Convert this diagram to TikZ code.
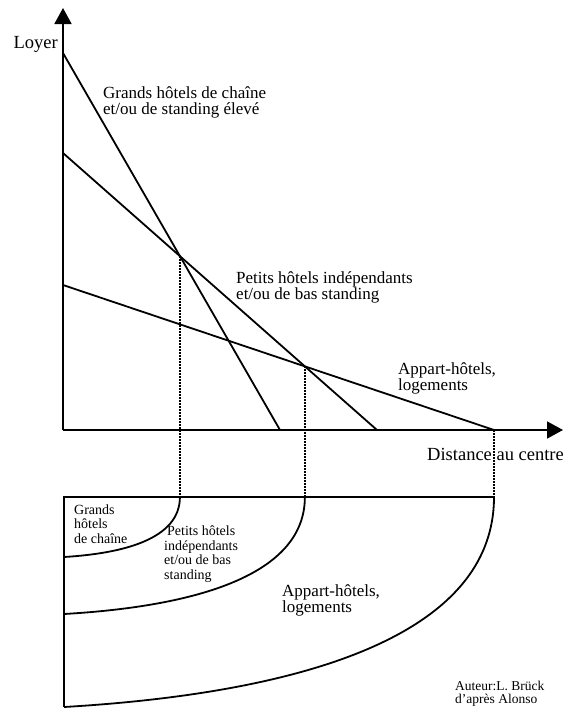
\documentclass[tikz,border=0pt]{standalone}
\usepackage{fontspec}
\setmainfont{Liberation Serif}
\usetikzlibrary{arrows.meta}
\begin{document}
\begin{tikzpicture}[x=1pt,y=-1pt,
  axis/.style={line width=1.8pt,-{Triangle[length=16pt,width=17pt]}},
  curve/.style={line width=1.8pt},
  guide/.style={line width=1.4pt,dash pattern=on 1.6pt off 1.4pt},
  zone/.style={line width=1.8pt},
  biglabel/.style={font=\fontsize{17}{16}\selectfont,align=left,inner sep=0pt,anchor=base west},
  smalllabel/.style={font=\fontsize{14}{14.5}\selectfont,align=left,inner sep=0pt,anchor=base west},
  authorlabel/.style={font=\fontsize{13.5}{13}\selectfont,align=left,inner sep=0pt,anchor=base west}]
\useasboundingbox (0,0) rectangle (566,710);
% axes
\coordinate (O) at (63,430);
\coordinate (Ytop) at (63,8);
\coordinate (Xend) at (563,430);
\draw[axis] (O) -- (Ytop);
\draw[axis] (O) -- (Xend);
% rent curves
\coordinate (A1) at (63,53);  \coordinate (B1) at (280,430);
\coordinate (A2) at (63,153); \coordinate (B2) at (377,430);
\coordinate (A3) at (63,285); \coordinate (B3) at (494,430);
\draw[curve] (A1) -- (B1);
\draw[curve] (A2) -- (B2);
\draw[curve] (A3) -- (B3);
\coordinate (P12) at (intersection of A1--B1 and A2--B2);
\coordinate (P23) at (intersection of A2--B2 and A3--B3);
% zone box
\coordinate (T0) at (64,497);
\coordinate (T1) at (P12 |- T0);
\coordinate (T2) at (P23 |- T0);
\coordinate (T3) at (B3 |- T0);
\coordinate (L1) at (64,557);
\coordinate (L2) at (64,614);
\coordinate (L3) at (64,707);
\draw[guide] (P12) -- (T1);
\draw[guide] (P23) -- (T2);
\draw[guide] (B3) -- (T3);
\draw[zone] (T3) -- (T0) -- (L3);
\draw[zone] (T1) .. controls ([yshift=-42pt]T1) and (123.5,553.4) .. (L1);
\draw[zone] (T2) .. controls ([yshift=-82pt]T2) and (185,607) .. (L2);
\draw[zone] (T3) .. controls ([yshift=-147pt]T3) and (279,694.4) .. (L3);
% labels
\node[font=\fontsize{18.5}{20}\selectfont,inner sep=0pt,anchor=base east] (loyer) at (58,48) {Loyer};
\node[font=\fontsize{18.5}{20}\selectfont,inner sep=0pt,anchor=base west] (dist) at (427,460) {Distance au centre};
\node[biglabel] (lg) at (103,114) {Grands hôtels de chaîne\\et/ou de standing élevé};
\node[biglabel] (lp) at (236,299) {Petits hôtels indépendants\\et/ou de bas standing};
\node[biglabel] (la) at (398,390) {Appart-hôtels,\\logements};
\node[smalllabel] (zg) at (74,543) {Grands\\hôtels\\de chaîne};
\node[smalllabel] (zp) at (164,579) {\hspace{3pt}Petits hôtels\\indépendants\\et/ou de bas\\standing};
\node[biglabel] (za) at (282,612) {Appart-hôtels,\\logements};
\node[authorlabel] (auth) at (455,703) {Auteur:L. Brück\\d'après Alonso};
\end{tikzpicture}
\end{document}
